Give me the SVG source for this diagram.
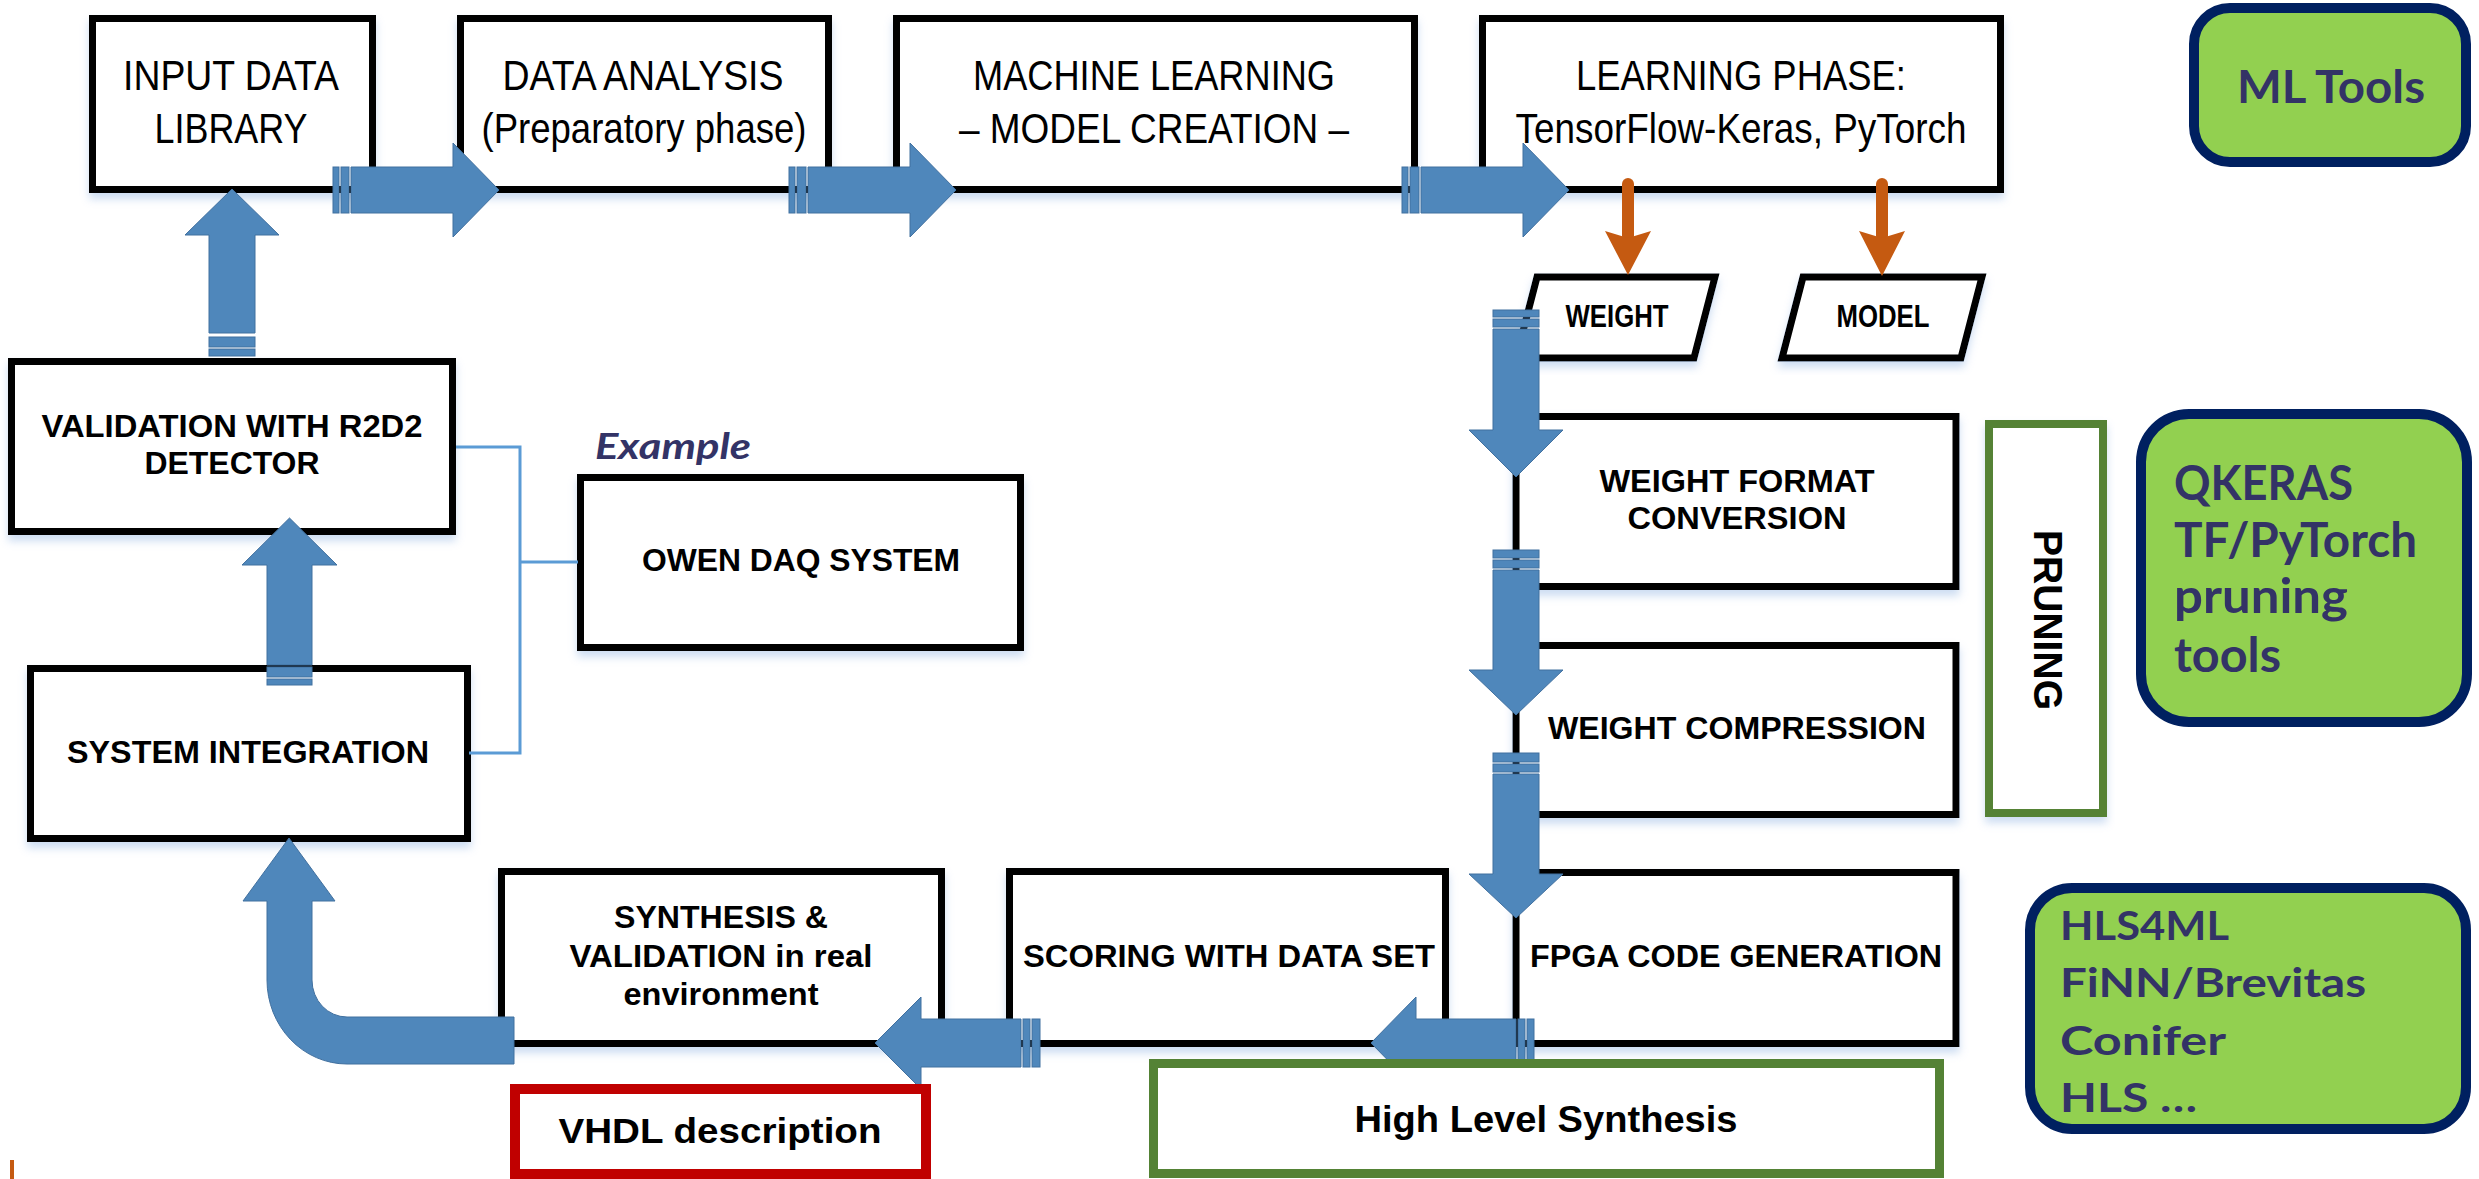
<svg xmlns="http://www.w3.org/2000/svg" width="2479" height="1179" viewBox="0 0 2479 1179">
<defs>
<filter id="sh" x="-10%" y="-10%" width="120%" height="130%">
<feDropShadow dx="0" dy="6" stdDeviation="4" flood-color="#8fb4e3" flood-opacity="0.45"/>
</filter>
<style>
.box{fill:#fff;stroke:#000;stroke-width:7;filter:url(#sh)}
.par{fill:#fff;stroke:#000;stroke-width:7;stroke-linejoin:miter;filter:url(#sh)}
.tool{fill:#92d050;stroke:#002060;stroke-width:10}
.arr{fill:#4f87bb;stroke:#41709f;stroke-width:1}
.str{fill:#4f87bb;stroke:#41709f;stroke-width:1}
.t{font-family:"Liberation Sans Narrow","Liberation Sans",Arial,sans-serif;fill:#000;text-anchor:middle}
.tr{font-size:42px}
.tb{font-size:32px;font-weight:bold}
.tool-t{font-family:Lato,"Open Sans","Liberation Sans",sans-serif;font-weight:bold;fill:#333366}
.link{fill:none;stroke:#5b9bd5;stroke-width:3}
.orange{stroke:#c55a11;stroke-width:12;stroke-linecap:round}
</style>
</defs>
<rect width="2479" height="1179" fill="#fff"/>

<g id="input-data-library">
<rect class="box" x="92.5" y="18.5" width="280" height="171"/>
<text class="t tr" x="231" y="90" textLength="216" lengthAdjust="spacingAndGlyphs">INPUT DATA</text>
<text class="t tr" x="231" y="143" textLength="153" lengthAdjust="spacingAndGlyphs">LIBRARY</text>
</g>
<g id="data-analysis">
<rect class="box" x="460.5" y="18.5" width="368" height="171"/>
<text class="t tr" x="643" y="90" textLength="281" lengthAdjust="spacingAndGlyphs">DATA ANALYSIS</text>
<text class="t tr" x="644" y="143" textLength="325" lengthAdjust="spacingAndGlyphs">(Preparatory phase)</text>
</g>
<g id="machine-learning">
<rect class="box" x="896.5" y="18.5" width="518" height="171"/>
<text class="t tr" x="1154" y="90" textLength="362" lengthAdjust="spacingAndGlyphs">MACHINE LEARNING</text>
<text class="t tr" x="1154" y="143" textLength="390" lengthAdjust="spacingAndGlyphs">– MODEL CREATION –</text>
</g>
<g id="learning-phase">
<rect class="box" x="1482.5" y="18.5" width="518" height="171"/>
<text class="t tr" x="1741" y="90" textLength="330" lengthAdjust="spacingAndGlyphs">LEARNING PHASE:</text>
<text class="t tr" x="1741" y="143" textLength="451" lengthAdjust="spacingAndGlyphs">TensorFlow-Keras, PyTorch</text>
</g>
<g id="ml-tools">
<rect class="tool" x="2194" y="8" width="272" height="154" rx="36"/>
<text class="tool-t" x="2331" y="103" font-size="46" text-anchor="middle" textLength="188" lengthAdjust="spacingAndGlyphs">ML Tools</text>
</g>
<g id="weight">
<polygon class="par" points="1537,277 1715,277 1694,358 1516,358"/>
<text class="t tb" x="1617" y="327" textLength="103" lengthAdjust="spacingAndGlyphs">WEIGHT</text>
</g>
<g id="model">
<polygon class="par" points="1803,277 1982,277 1961,358 1782,358"/>
<text class="t tb" x="1883" y="327" textLength="93" lengthAdjust="spacingAndGlyphs">MODEL</text>
</g>
<g id="validation-r2d2">
<rect class="box" x="11.5" y="361.5" width="441" height="170"/>
<text class="t tb" x="232" y="437" textLength="381" lengthAdjust="spacingAndGlyphs">VALIDATION WITH R2D2</text>
<text class="t tb" x="232" y="474" textLength="175" lengthAdjust="spacingAndGlyphs">DETECTOR</text>
</g>
<g id="system-integration">
<rect class="box" x="30.5" y="668.5" width="437" height="170"/>
<text class="t tb" x="248" y="763" textLength="362" lengthAdjust="spacingAndGlyphs">SYSTEM INTEGRATION</text>
</g>
<g id="owen-daq">
<text x="595" y="459" font-family="Lato,'Open Sans','Liberation Sans',sans-serif" font-weight="bold" font-style="italic" font-size="36" fill="#333366" textLength="156" lengthAdjust="spacingAndGlyphs">Example</text>
<rect class="box" x="580.5" y="477.5" width="440" height="170"/>
<text class="t tb" x="801" y="571" textLength="318" lengthAdjust="spacingAndGlyphs">OWEN DAQ SYSTEM</text>
</g>
<g id="weight-format-conversion">
<rect class="box" x="1516" y="416.5" width="440" height="170"/>
<text class="t tb" x="1737" y="492" textLength="275" lengthAdjust="spacingAndGlyphs">WEIGHT FORMAT</text>
<text class="t tb" x="1737" y="529" textLength="219" lengthAdjust="spacingAndGlyphs">CONVERSION</text>
</g>
<g id="weight-compression">
<rect class="box" x="1516" y="645.5" width="440" height="169"/>
<text class="t tb" x="1737" y="739" textLength="378" lengthAdjust="spacingAndGlyphs">WEIGHT COMPRESSION</text>
</g>
<g id="pruning">
<rect x="1989" y="424" width="114" height="389" fill="#fff" stroke="#548235" stroke-width="8" filter="url(#sh)"/>
<text transform="translate(2034,620) rotate(90)" font-family="'Liberation Sans',Arial,sans-serif" font-weight="bold" font-size="40" text-anchor="middle" textLength="180" lengthAdjust="spacingAndGlyphs">PRUNING</text>
</g>
<g id="qkeras-tools">
<rect class="tool" x="2141" y="414" width="326" height="308" rx="48"/>
<text class="tool-t" x="2174" y="500" font-size="47" textLength="179" lengthAdjust="spacingAndGlyphs">QKERAS</text>
<text class="tool-t" x="2174" y="557" font-size="47" textLength="243" lengthAdjust="spacingAndGlyphs">TF/PyTorch</text>
<text class="tool-t" x="2174" y="613" font-size="47" textLength="174" lengthAdjust="spacingAndGlyphs">pruning</text>
<text class="tool-t" x="2174" y="672" font-size="47" textLength="107" lengthAdjust="spacingAndGlyphs">tools</text>
</g>
<g id="fpga-code-generation">
<rect class="box" x="1516" y="872.5" width="440" height="171"/>
<text class="t tb" x="1736" y="967" textLength="412" lengthAdjust="spacingAndGlyphs">FPGA CODE GENERATION</text>
</g>
<g id="scoring">
<rect class="box" x="1009.5" y="871.5" width="436" height="172"/>
<text class="t tb" x="1229" y="967" textLength="412" lengthAdjust="spacingAndGlyphs">SCORING WITH DATA SET</text>
</g>
<g id="synthesis-validation">
<rect class="box" x="501.5" y="871.5" width="440" height="172"/>
<text class="t tb" x="721" y="928" textLength="214" lengthAdjust="spacingAndGlyphs">SYNTHESIS &amp;</text>
<text class="t tb" x="721" y="967" textLength="303" lengthAdjust="spacingAndGlyphs">VALIDATION in real</text>
<text class="t tb" x="721" y="1005" textLength="195" lengthAdjust="spacingAndGlyphs">environment</text>
</g>
<g id="hls4ml-tools">
<rect class="tool" x="2030" y="888" width="436" height="241" rx="42"/>
<text class="tool-t" x="2060" y="940" font-size="40" textLength="169" lengthAdjust="spacingAndGlyphs">HLS4ML</text>
<text class="tool-t" x="2060" y="997" font-size="40" textLength="306" lengthAdjust="spacingAndGlyphs">FiNN/Brevitas</text>
<text class="tool-t" x="2060" y="1055" font-size="40" textLength="166" lengthAdjust="spacingAndGlyphs">Conifer</text>
<text class="tool-t" x="2060" y="1112" font-size="40" textLength="137" lengthAdjust="spacingAndGlyphs">HLS …</text>
</g>

<g id="connectors">
<!-- top row right arrows -->
<rect class="str" x="333" y="167" width="6" height="46"/><rect class="str" x="341" y="167" width="8" height="46"/>
<polygon class="arr" points="351,167 453,167 453,143 499,190 453,237 453,213 351,213"/>
<rect class="str" x="789" y="167" width="6" height="46"/><rect class="str" x="797" y="167" width="9" height="46"/>
<polygon class="arr" points="808,167 910,167 910,143 956,190 910,237 910,213 808,213"/>
<rect class="str" x="1402" y="167" width="6" height="46"/><rect class="str" x="1410" y="167" width="9" height="46"/>
<polygon class="arr" points="1421,167 1523,167 1523,143 1569,190 1523,237 1523,213 1421,213"/>
<!-- orange arrows -->
<line class="orange" x1="1628" y1="184" x2="1628" y2="236"/>
<polygon fill="#c55a11" points="1605,231 1628,238 1651,231 1628,275"/>
<line class="orange" x1="1882" y1="184" x2="1882" y2="236"/>
<polygon fill="#c55a11" points="1859,231 1882,238 1905,231 1882,276"/>
<!-- up arrows on left -->
<polygon class="arr" points="209,333 209,235 185,235 232,189 279,235 255,235 255,333"/>
<rect class="str" x="209" y="337" width="46" height="10"/><rect class="str" x="209" y="349" width="46" height="7"/>
<polygon class="arr" points="267,665 267,565 242,565 289.5,518 337,565 312,565 312,665"/>
<rect class="str" x="267" y="667" width="45" height="10"/><rect class="str" x="267" y="679" width="45" height="6"/>
<!-- example links -->
<path class="link" d="M456 447 H520 V753 H469 M520 562 H578"/>
<!-- down arrows on right -->
<rect class="str" x="1493" y="310" width="46" height="7"/><rect class="str" x="1493" y="319" width="46" height="8"/>
<polygon class="arr" points="1493,329 1539,329 1539,430 1563,430 1516,477 1469,430 1493,430"/>
<rect class="str" x="1493" y="550" width="46" height="8"/><rect class="str" x="1493" y="560" width="46" height="8"/>
<polygon class="arr" points="1493,570 1539,570 1539,670 1563,670 1516,715 1469,670 1493,670"/>
<rect class="str" x="1493" y="753" width="46" height="9"/><rect class="str" x="1493" y="764" width="46" height="8"/>
<polygon class="arr" points="1493,774 1539,774 1539,874 1563,874 1516,918 1469,874 1493,874"/>
<!-- bottom left arrows -->
<rect class="str" x="1518" y="1019" width="7" height="48"/><rect class="str" x="1527" y="1019" width="7" height="48"/>
<polygon class="arr" points="1516,1019 1416,1019 1416,997 1371,1043 1416,1089 1416,1067 1516,1067"/>
<rect class="str" x="1023" y="1019" width="7" height="48"/><rect class="str" x="1032" y="1019" width="8" height="48"/>
<polygon class="arr" points="1021,1019 921,1019 921,997 875,1043 921,1089 921,1067 1021,1067"/>
<!-- curved return arrow -->
<path class="arr" d="M514 1017 L347 1017 A35 37 0 0 1 312 980 L312 901 L335 901 L289 838 L243 901 L267 901 L267 980 A80 84 0 0 0 347 1064 L514 1064 Z"/>
</g>

<g id="vhdl-description">
<rect x="515" y="1089" width="411" height="85" fill="#fff" stroke="#c00000" stroke-width="10"/>
<text class="t" x="720" y="1143" font-size="35" font-weight="bold" textLength="323" lengthAdjust="spacingAndGlyphs">VHDL description</text>
</g>
<g id="high-level-synthesis">
<rect x="1153.5" y="1063.5" width="786" height="110" fill="#fff" stroke="#548235" stroke-width="9"/>
<text class="t" x="1546" y="1132" font-size="37" font-weight="bold" textLength="383" lengthAdjust="spacingAndGlyphs">High Level Synthesis</text>
</g>
<rect x="10" y="1160" width="4" height="19" fill="#c55a11"/>
</svg>
